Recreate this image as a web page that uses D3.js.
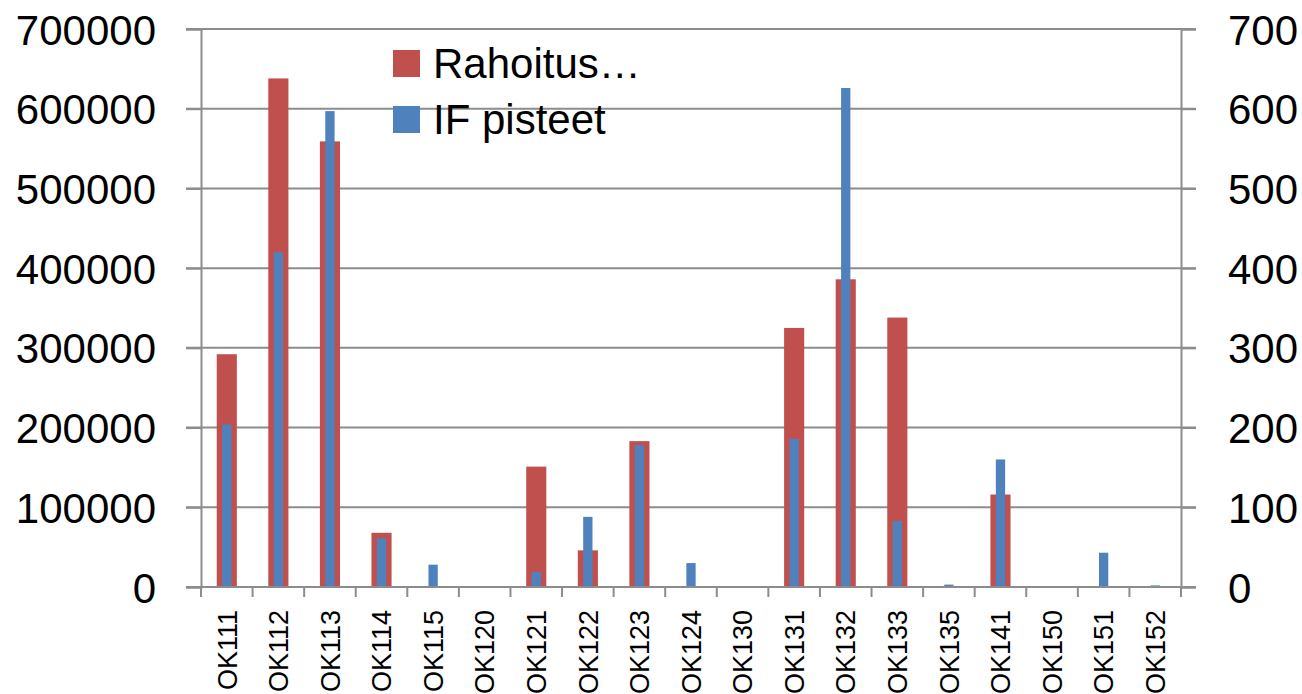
<!DOCTYPE html>
<html>
<head>
<meta charset="utf-8">
<script src="https://cdn.jsdelivr.net/npm/d3@7"></script>
<style>
  body { margin: 0; background: #fff; }
  svg { display: block; font-family: "Liberation Sans", Arial, sans-serif; }
</style>
</head>
<body>
<svg id="chart" width="1302" height="694"></svg>
<script>
// categories along the x axis
let categories = ["OK111", "OK112", "OK113", "OK114", "OK115", "OK120", "OK121", "OK122", "OK123",
    "OK124", "OK130", "OK131", "OK132", "OK133", "OK135", "OK141", "OK150", "OK151", "OK152"];

// left axis series (red)
let rahoitus = [292000, 638000, 559000, 68000, 0, 0, 151000, 46000, 183000,
    0, 0, 325000, 386000, 338000, 0, 116000, 0, 0, 0];

// right axis series (blue)
let ifPisteet = [204, 420, 597, 61, 28, 0, 19, 88, 178,
    30, 0, 186, 626, 83, 3, 160, 0, 43, 2];

let leftTicks = [0, 100000, 200000, 300000, 400000, 500000, 600000, 700000];
let rightTicks = [0, 100, 200, 300, 400, 500, 600, 700];

let seriesNames = ["Rahoitus…", "IF pisteet"];
let colors = ["#C0504D", "#4F81BD"];

let margin = {top: 29, right: 121, bottom: 107, left: 201},
    width = 1302 - margin.left - margin.right,
    height = 694 - margin.top - margin.bottom;

let svg = d3.select("#chart");
let chart = svg.append("g")
    .attr("transform", "translate(" + margin.left + "," + margin.top + ")");

let xScale = d3.scaleBand()
    .domain(categories)
    .range([0, width])
    .padding(0);

let yLeft = d3.scaleLinear()
    .domain([0, 700000])
    .range([height, 0]);

let yRight = d3.scaleLinear()
    .domain([0, 700])
    .range([height, 0]);

let gridColor = "#8c8c8c";

// gridlines (run over the outside tick marks, like Excel)
chart.append("g")
    .selectAll("line")
    .data(leftTicks)
    .enter()
    .append("line")
    .attr("x1", -15)
    .attr("x2", width + 15)
    .attr("y1", d => yLeft(d))
    .attr("y2", d => yLeft(d))
    .attr("stroke", gridColor)
    .attr("stroke-width", 2);

// red bars
let redW = xScale.bandwidth() * 0.39;
chart.append("g")
    .selectAll("rect")
    .data(rahoitus)
    .enter()
    .append("rect")
    .attr("x", (d, i) => xScale(categories[i]) + (xScale.bandwidth() - redW) / 2)
    .attr("width", redW)
    .attr("y", d => yLeft(d))
    .attr("height", d => height - yLeft(d))
    .attr("fill", colors[0]);

// blue bars
let blueW = xScale.bandwidth() * 0.18;
chart.append("g")
    .selectAll("rect")
    .data(ifPisteet)
    .enter()
    .append("rect")
    .attr("x", (d, i) => xScale(categories[i]) + (xScale.bandwidth() - blueW) / 2)
    .attr("width", blueW)
    .attr("y", d => yRight(d))
    .attr("height", d => height - yRight(d))
    .attr("fill", colors[1]);

// left axis
let leftAxis = chart.append("g")
    .call(d3.axisLeft(yLeft).tickValues(leftTicks).tickSize(15).tickPadding(30).tickFormat(d3.format("d")));

// right axis
let rightAxis = chart.append("g")
    .attr("transform", "translate(" + width + ",0)")
    .call(d3.axisRight(yRight).tickValues(rightTicks).tickSize(15).tickPadding(32).tickFormat(d3.format("d")));

[leftAxis, rightAxis].forEach(ax => {
    ax.select(".domain").attr("stroke", gridColor).attr("stroke-width", 2);
    ax.selectAll(".tick line").attr("stroke", gridColor).attr("stroke-width", 2);
    ax.selectAll("text")
        .attr("font-family", "Liberation Sans, Arial, sans-serif")
        .attr("font-size", 42)
        .attr("fill", "#000")
        .attr("dy", "0.36em");
});

// bottom axis: ticks at category boundaries
let bottom = chart.append("g")
    .attr("transform", "translate(0," + height + ")");

bottom.append("line")
    .attr("x1", -15)
    .attr("x2", width + 15)
    .attr("stroke", gridColor)
    .attr("stroke-width", 2);

bottom.selectAll("line.cat")
    .data(categories.concat(["end"]))
    .enter()
    .append("line")
    .attr("class", "cat")
    .attr("x1", (d, i) => i < categories.length ? xScale(d) : width)
    .attr("x2", (d, i) => i < categories.length ? xScale(d) : width)
    .attr("y1", 0)
    .attr("y2", 10)
    .attr("stroke", gridColor)
    .attr("stroke-width", 2);

bottom.selectAll("text")
    .data(categories)
    .enter()
    .append("text")
    .attr("transform", d => "translate(" + (xScale(d) + xScale.bandwidth() / 2) + ",23) rotate(-90)")
    .attr("text-anchor", "end")
    .attr("dy", "0.36em")
    .attr("font-size", 27)
    .attr("fill", "#000")
    .text(d => d);

// legend
let legend = svg.append("g")
    .attr("transform", "translate(393,50)");

let items = legend.selectAll("g")
    .data(seriesNames)
    .enter()
    .append("g")
    .attr("transform", (d, i) => "translate(0," + (i * 56) + ")");

items.append("rect")
    .attr("width", 27)
    .attr("height", 27)
    .attr("fill", (d, i) => colors[i]);

items.append("text")
    .attr("x", 40)
    .attr("y", 28)
    .attr("font-size", 42)
    .attr("fill", "#000")
    .text(d => d);
</script>
</body>
</html>
